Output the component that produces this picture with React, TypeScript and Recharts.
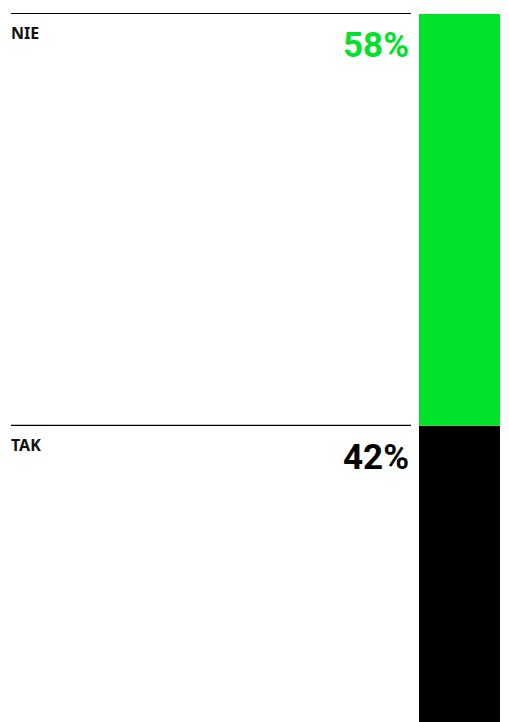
import { Bar, BarChart, XAxis, YAxis } from "recharts";

const answers = ["NIE", "TAK"];
const shares = [58, 42];
const colors = ["#00E22A", "#000000"];

const row: Record<string, number | string> = { group: "wynik" };
answers.forEach((a, i) => {
  row[a] = shares[i];
});
const data = [row];

function makeLabel(name: string, share: number, color: string) {
  return (props: any) => {
    const x = Number(props.x);
    const y = Number(props.y);
    return (
      <g>
        <line x1={x - 408} x2={x - 8} y1={y - 0.5} y2={y - 0.5} stroke="#000" strokeWidth={1.2} />
        <text
          x={x - 408}
          y={y + 25}
          fontFamily="'Noto Sans', sans-serif"
          fontWeight={700}
          fontSize={16}
          fill="#111"
        >
          {name}
        </text>
        <text
          x={x - 10}
          y={y + 43}
          textAnchor="end"
          fontFamily="Roboto, sans-serif"
          fontWeight={700}
          fontSize={35}
          fill={color}
        >
          {share}%
        </text>
      </g>
    );
  };
}

export default function App() {
  // stacked bottom-up, so the last answer goes first
  const order = answers.map((a, i) => ({ a, s: shares[i], c: colors[i] })).reverse();
  return (
    <div
      style={{
        position: "fixed",
        top: 0,
        left: 0,
        width: 509,
        height: 722,
        overflow: "hidden",
        background: "#fff",
      }}
    >
      <BarChart
        width={509}
        height={724}
        data={data}
        margin={{ top: 14, right: 9, bottom: 0, left: 419 }}
        barCategoryGap={0}
      >
        <XAxis dataKey="group" hide />
        <YAxis hide domain={[0, 100]} />
        {order.map(({ a, s, c }) => (
          <Bar
            key={a}
            dataKey={a}
            stackId="s"
            fill={c}
            isAnimationActive={false}
            label={makeLabel(a, s, c)}
          />
        ))}
      </BarChart>
    </div>
  );
}
